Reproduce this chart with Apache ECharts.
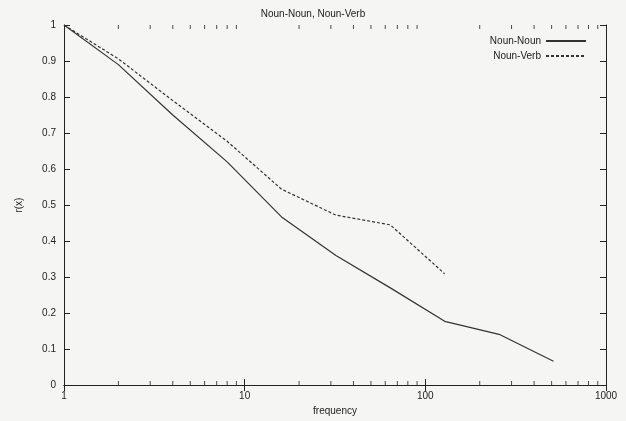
<!DOCTYPE html>
<html>
<head>
<meta charset="utf-8">
<script src="https://cdn.jsdelivr.net/npm/echarts@6/dist/echarts.min.js"></script>
<style>
  html, body { margin: 0; padding: 0; background: #f5f5f3; }
  #main { width: 626px; height: 421px; }
</style>
</head>
<body>
<div id="main"></div>
<script>
// frequency points (powers of two)
var freqNN = [1, 2, 4, 8, 16, 32, 64, 128, 256, 512];
var nounNoun = [1, 0.89, 0.75, 0.62, 0.467, 0.36, 0.27, 0.177, 0.141, 0.066];
var freqNV = [1, 2, 4, 8, 16, 32, 64, 128];
var nounVerb = [1, 0.906, 0.79, 0.677, 0.544, 0.472, 0.445, 0.309];
// minor ticks of the log axis
var minorX = [2, 3, 4, 5, 6, 7, 8, 9, 20, 30, 40, 50, 60, 70, 80, 90, 200, 300, 400, 500, 600, 700, 800, 900];

var font = 'Liberation Sans';
var ink = '#222';

function pairs(xs, ys) {
    return xs.map(function (x, i) { return [x, ys[i]]; });
}

var chart = echarts.init(document.getElementById('main'));
var option = {
    backgroundColor: '#f5f5f3',
    animation: false,
    title: {
        text: 'Noun-Noun, Noun-Verb',
        left: 'center',
        top: 4,
        textStyle: { fontFamily: font, fontSize: 10, fontWeight: 'normal', color: ink }
    },
    legend: {
        right: 34,
        top: 31,
        orient: 'vertical',
        align: 'right',
        itemWidth: 40,
        itemHeight: 8,
        itemGap: 5,
        itemStyle: { opacity: 0 },
        data: ['Noun-Noun', 'Noun-Verb'],
        textStyle: { fontFamily: font, fontSize: 10, color: ink }
    },
    grid: { left: 64, right: 20, top: 25, bottom: 34 },
    xAxis: [{
        type: 'log',
        logBase: 10,
        min: 1,
        max: 1000,
        name: 'frequency',
        nameLocation: 'middle',
        nameGap: 19,
        nameTextStyle: { fontFamily: font, fontSize: 10, color: ink },
        axisLine: { lineStyle: { color: ink, width: 1 } },
        axisTick: { inside: true, length: 6, lineStyle: { color: ink } },
        axisLabel: {
            fontFamily: font, fontSize: 10, color: ink, margin: 6,
            formatter: function (v) { return String(Math.round(v)); }
        },
        splitLine: { show: false }
    }, {
        type: 'log',
        logBase: 10,
        min: 1,
        max: 1000,
        position: 'top',
        axisLine: { lineStyle: { color: ink, width: 1 } },
        axisTick: { inside: true, length: 6, lineStyle: { color: ink } },
        axisLabel: { show: false },
        splitLine: { show: false }
    }],
    yAxis: [{
        type: 'value',
        min: 0,
        max: 1,
        interval: 0.1,
        name: 'r(x)',
        nameLocation: 'middle',
        nameGap: 40,
        nameTextStyle: { fontFamily: font, fontSize: 10, color: ink },
        axisLine: { show: true, lineStyle: { color: ink, width: 1 } },
        axisTick: { show: true, inside: true, length: 6, lineStyle: { color: ink } },
        axisLabel: {
            fontFamily: font, fontSize: 10, color: ink, margin: 8,
            formatter: function (v) { return String(Math.round(v * 10) / 10); }
        },
        splitLine: { show: false }
    }, {
        type: 'value',
        min: 0,
        max: 1,
        interval: 0.1,
        position: 'right',
        axisLine: { show: true, lineStyle: { color: ink, width: 1 } },
        axisTick: { show: true, inside: true, length: 6, lineStyle: { color: ink } },
        axisLabel: { show: false },
        splitLine: { show: false }
    }],
    series: [{
        name: 'Noun-Noun',
        type: 'line',
        data: pairs(freqNN, nounNoun),
        symbol: 'none',
        itemStyle: { color: '#333' },
        lineStyle: { color: '#333', width: 1.2, type: 'solid' }
    }, {
        name: 'Noun-Verb',
        type: 'line',
        data: pairs(freqNV, nounVerb),
        symbol: 'none',
        itemStyle: { color: '#333' },
        lineStyle: { color: '#333', width: 1.2, type: [3, 2] }
    }, {
        type: 'scatter',
        silent: true,
        data: minorX.map(function (x) { return [x, 0]; }),
        symbol: 'rect',
        symbolSize: [1, 4],
        symbolOffset: [0, -2],
        itemStyle: { color: ink },
        z: 5
    }, {
        type: 'scatter',
        silent: true,
        data: minorX.map(function (x) { return [x, 1]; }),
        symbol: 'rect',
        symbolSize: [1, 4],
        symbolOffset: [0, 2],
        itemStyle: { color: ink },
        z: 5
    }]
};
chart.setOption(option);
</script>
</body>
</html>
